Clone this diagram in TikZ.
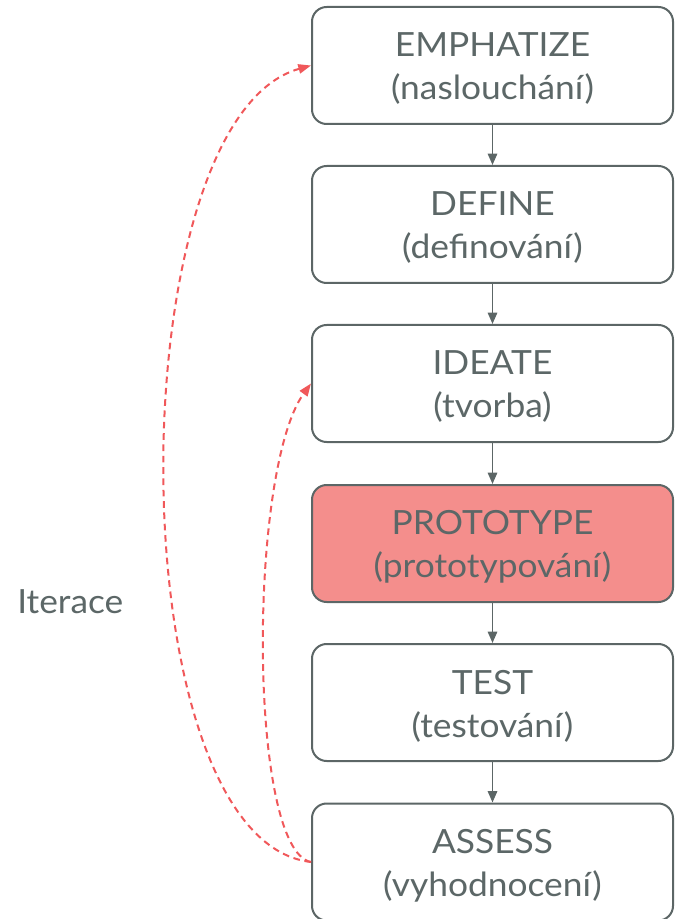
\documentclass[tikz,border=0pt]{standalone}
\usepackage{fontspec}
\setmainfont{Lato}[FakeStretch=1.06]
\usetikzlibrary{arrows.meta}
\definecolor{ink}{RGB}{92,103,103}
\definecolor{frame}{RGB}{92,102,102}
\definecolor{hotfill}{RGB}{244,142,140}
\definecolor{loopred}{RGB}{240,88,90}
\begin{document}
\begin{tikzpicture}[x=0.75pt,y=-0.75pt,
  stage/.style={draw=frame, line width=1.5pt, rounded corners=11pt, fill=white,
    minimum width=270.75pt, minimum height=87.75pt, inner sep=0pt},
  stagetext/.style={text=ink, align=center, font=\fontsize{25}{32.25}\selectfont,
    inner sep=0pt, yshift=-2.6pt},
  flow/.style={draw=frame, line width=1.4pt, -{Triangle[length=8.5pt,width=7pt]}},
  loop/.style={draw=loopred, line width=1.5pt, dash pattern=on 5pt off 3.5pt,
    -{Triangle[length=9.5pt,width=7pt]}}
]
\useasboundingbox (0,0) rectangle (676,919);

% process stages
\node[stage] (emp) at (492.5,65.5) {};
\node[stage] (def) at (492.5,224.5) {};
\node[stage] (ide) at (492.5,383.5) {};
\node[stage, fill=hotfill] (pro) at (492.5,543.5) {};
\node[stage] (tst) at (492.5,702.5) {};
\node[stage] (ass) at (492.5,862) {};

\node[stagetext] at (emp.center) {EMPHATIZE\\(naslouchání)};
\node[stagetext] at (def.center) {DEFINE\\(definování)};
\node[stagetext] at (ide.center) {IDEATE\\(tvorba)};
\node[stagetext] at (pro.center) {PROTOTYPE\\(prototypování)};
\node[stagetext] at (tst.center) {TEST\\(testování)};
\node[stagetext] at (ass.center) {ASSESS\\(vyhodnocení)};

% main flow
\draw[flow] (emp) -- (def);
\draw[flow] (def) -- (ide);
\draw[flow] (ide) -- (pro);
\draw[flow] (pro) -- (tst);
\draw[flow] (tst) -- (ass);

% iteration loops
\draw[loop] (ass.west) .. controls (116,840) and (116,120) .. (emp.west);
\draw[loop] (ass.west) .. controls (248,850) and (248,470) .. (ide.west);

\node[text=ink, font=\fontsize{25}{32}\selectfont, anchor=base west, inner sep=0pt] (it) at (17,613) {Iterace};
\end{tikzpicture}
\end{document}
